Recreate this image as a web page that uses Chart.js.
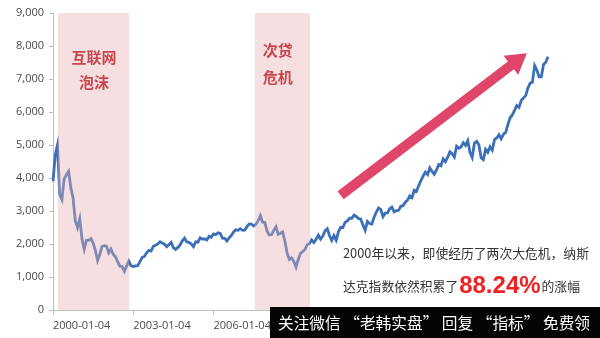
<!DOCTYPE html>
<html>
<head>
<meta charset="utf-8">
<script src="https://cdn.jsdelivr.net/npm/chart.js@4/dist/chart.umd.min.js"></script>
<style>
  html, body { margin: 0; padding: 0; background: #ffffff; }
  #wrap { width: 600px; height: 338px; position: relative; }
</style>
</head>
<body>
<div id="wrap"><canvas id="c" width="600" height="338"></canvas></div>
<script>
// ---- data (monthly points, Jan 2000 .. Jul 2018) ----
const startYear = 2000;
const nasdaq = [
  3900, 4700, 5000, 3500, 3350, 3970, 4100, 4200, 3700, 3400, 2700, 2500,   // 2000
  2770, 2150, 1840, 2116, 2110, 2160, 2027, 1805, 1499, 1690, 1930, 1950,   // 2001
  1934, 1731, 1845, 1688, 1616, 1463, 1328, 1315, 1172, 1330, 1479, 1336,   // 2002
  1320, 1337, 1341, 1464, 1596, 1623, 1735, 1810, 1787, 1932, 1960, 2003,   // 2003
  2066, 2030, 1994, 1920, 1987, 2048, 1887, 1838, 1897, 1975, 2096, 2175,   // 2004
  2062, 2051, 1999, 1921, 2068, 2057, 2185, 2152, 2151, 2120, 2232, 2205,   // 2005
  2306, 2281, 2340, 2322, 2179, 2172, 2091, 2184, 2258, 2367, 2431, 2415,   // 2006
  2464, 2416, 2422, 2525, 2605, 2603, 2546, 2596, 2701, 2859, 2661, 2652,   // 2007
  2389, 2271, 2279, 2413, 2523, 2293, 2326, 2368, 2092, 1721, 1536, 1577,   // 2008
  1476, 1300, 1529, 1717, 1774, 1835, 1979, 2009, 2122, 2045, 2145, 2269,   // 2009
  2147, 2238, 2398, 2461, 2257, 2109, 2255, 2114, 2369, 2507, 2498, 2653,   // 2010
  2700, 2782, 2781, 2873, 2835, 2774, 2756, 2579, 2415, 2684, 2620, 2605,   // 2011
  2814, 2967, 3092, 3046, 2827, 2935, 2940, 3067, 3116, 2977, 3010, 3020,   // 2012
  3142, 3160, 3268, 3329, 3456, 3403, 3626, 3590, 3771, 3920, 4060, 4177,   // 2013
  4104, 4308, 4199, 4115, 4243, 4408, 4370, 4580, 4493, 4631, 4792, 4736,   // 2014
  4635, 4964, 4901, 4941, 5070, 4987, 5128, 4777, 4620, 5054, 5109, 5007,   // 2015
  4614, 4558, 4870, 4775, 4948, 4843, 5162, 5213, 5312, 5189, 5324, 5383,   // 2016
  5615, 5825, 5912, 6048, 6199, 6140, 6348, 6429, 6496, 6728, 6874, 6903,   // 2017
  7411, 7273, 7063, 7066, 7442, 7510, 7672                                  // 2018
];
const tickEvery = 36;
const tickLabels = ['2000-01-04', '2003-01-04', '2006-01-04', '2009-01-02', '2012-01-03', '2015-01-02', '2018-01-02'];
const yTicks = [0, 1000, 2000, 3000, 4000, 5000, 6000, 7000, 8000, 9000];

// crisis shading (in month-index units of the category axis)
const shadeNames = [['互联网', '泡沫'], ['次贷', '危机']];
const shadeStart = [2.2, 90.5];
const shadeEnd = [34.1, 115.3];

// arrow (month index, value)
const arrowFrom = [129.0, 3480];
const arrowTo = [212.5, 7780];

const noteLine1 = '2000年以来，即使经历了两次大危机，纳斯';
const noteLine2a = '达克指数依然积累了';
const notePct = '88.24%';
const noteLine2b = '的涨幅';
const watermark = '关注微信 “老韩实盘” 回复 “指标” 免费领';

const categories = nasdaq.map((v, i) => {
  const y = startYear + Math.floor(i / 12);
  const m = (i % 12) + 1;
  return y + '-' + (m < 10 ? '0' : '') + m;
});

const CJK = '"Noto Sans CJK SC", "Noto Sans", sans-serif';

const overlay = {
  id: 'overlay',
  afterDatasetsDraw(chart) {
    const ctx = chart.ctx;
    const xs = chart.scales.x, ys = chart.scales.y;
    const top = ys.getPixelForValue(9000), bot = ys.getPixelForValue(0);
    ctx.save();
    // shaded crisis boxes (translucent, over the line)
    for (let i = 0; i < shadeStart.length; i++) {
      const x0 = xs.getPixelForValue(shadeStart[i]);
      const x1 = xs.getPixelForValue(shadeEnd[i]);
      ctx.fillStyle = 'rgba(232,176,181,0.40)';
      ctx.fillRect(x0, top, x1 - x0, bot - top);
    }
    // box labels
    ctx.fillStyle = '#c8474f';
    ctx.font = 'bold 15px ' + CJK;
    ctx.textBaseline = 'middle';
    {
      const x0 = xs.getPixelForValue(shadeStart[0]);
      const x1 = xs.getPixelForValue(shadeEnd[0]);
      ctx.textAlign = 'center';
      ctx.fillText(shadeNames[0][0], (x0 + x1) / 2 + 0.5, 57);
      ctx.fillText(shadeNames[0][1], (x0 + x1) / 2 + 0.5, 82);
      const x2 = xs.getPixelForValue(shadeStart[1]);
      ctx.textAlign = 'left';
      ctx.fillText(shadeNames[1][0], x2 + 8, 50);
      ctx.fillText(shadeNames[1][1], x2 + 8, 77);
    }
    // arrow
    const ax0 = xs.getPixelForValue(arrowFrom[0]), ay0 = ys.getPixelForValue(arrowFrom[1]);
    const ax1 = xs.getPixelForValue(arrowTo[0]), ay1 = ys.getPixelForValue(arrowTo[1]);
    const ang = Math.atan2(ay1 - ay0, ax1 - ax0);
    const len = Math.hypot(ax1 - ax0, ay1 - ay0);
    const headL = 20, headW = 24, shaftW = 10;
    ctx.translate(ax0, ay0);
    ctx.rotate(ang);
    ctx.fillStyle = '#e0466a';
    ctx.beginPath();
    ctx.moveTo(0, -shaftW / 2);
    ctx.lineTo(len - headL, -shaftW / 2);
    ctx.lineTo(len - headL, -headW / 2);
    ctx.lineTo(len, 0);
    ctx.lineTo(len - headL, headW / 2);
    ctx.lineTo(len - headL, shaftW / 2);
    ctx.lineTo(0, shaftW / 2);
    ctx.closePath();
    ctx.fill();
    ctx.restore();

    // note text
    ctx.save();
    ctx.textBaseline = 'alphabetic';
    ctx.textAlign = 'left';
    ctx.fillStyle = '#333333';
    ctx.font = '12.8px ' + CJK;
    ctx.fillText(noteLine1, 343, 258);
    ctx.fillText(noteLine2a, 343, 291);
    let w = ctx.measureText(noteLine2a).width;
    ctx.fillStyle = '#ee2222';
    ctx.font = 'bold 24px "Liberation Sans", Arial, sans-serif';
    ctx.fillText(notePct, 343 + w + 1, 293);
    const w2 = ctx.measureText(notePct).width;
    ctx.fillStyle = '#333333';
    ctx.font = '12.8px ' + CJK;
    ctx.fillText(noteLine2b, 343 + w + 1 + w2 + 1, 291);
    ctx.restore();
  },
  afterDraw(chart) {
    const ctx = chart.ctx;
    ctx.save();
    ctx.fillStyle = '#050505';
    ctx.fillRect(270, 307, 330, 31);
    ctx.fillStyle = '#ffffff';
    ctx.font = '16px ' + CJK;
    ctx.textBaseline = 'middle';
    ctx.textAlign = 'left';
    const tw = ctx.measureText(watermark).width;
    const target = 312;
    ctx.translate(278, 323);
    ctx.scale(target / tw, 1);
    ctx.fillText(watermark, 0, 0);
    ctx.restore();
  }
};

new Chart(document.getElementById('c'), {
  type: 'line',
  data: {
    labels: categories,
    datasets: [{
      data: nasdaq,
      borderColor: '#3b6fb7',
      borderWidth: 2.8,
      pointRadius: 0,
      tension: 0,
      fill: false
    }]
  },
  options: {
    responsive: false,
    animation: false,
    devicePixelRatio: 1,
    layout: { padding: { top: 13, right: 52, left: 0, bottom: 0 } },
    plugins: { legend: { display: false }, tooltip: { enabled: false } },
    scales: {
      x: {
        type: 'category',
        offset: false,
        grid: { display: true, drawOnChartArea: false, drawTicks: true, tickLength: 5, color: '#bfbfbf' },
        border: { display: true, color: '#bfbfbf', width: 1 },
        afterBuildTicks: (s) => { s.ticks = s.ticks.filter(t => t.value % tickEvery === 0); },
        ticks: {
          autoSkip: false, maxRotation: 0, minRotation: 0, align: 'start', padding: 4,
          color: '#4a4a4a', font: { family: '"Open Sans", sans-serif', size: 11 },
          callback: (v) => tickLabels[Math.round(v / tickEvery)]
        },
        afterFit: (s) => { s.height = 28; }
      },
      y: {
        min: 0, max: 9000,
        afterBuildTicks: (s) => { s.ticks = yTicks.map(v => ({ value: v })); },
        grid: { display: true, drawOnChartArea: false, drawTicks: true, tickLength: 4, color: '#bfbfbf' },
        border: { display: true, color: '#bfbfbf', width: 1 },
        ticks: {
          padding: 5, color: '#4a4a4a', font: { family: '"Open Sans", sans-serif', size: 11 },
          callback: (v) => v.toLocaleString('en-US')
        },
        afterFit: (s) => { s.width = 53; }
      }
    }
  },
  plugins: [overlay]
});
</script>
</body>
</html>
